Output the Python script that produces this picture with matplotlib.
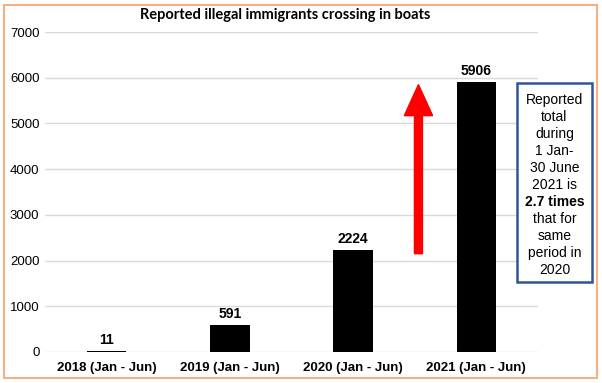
import matplotlib
matplotlib.use("Agg")
import matplotlib.pyplot as plt
from matplotlib.patches import Rectangle, FancyArrow

categories = ["2018 (Jan - Jun)", "2019 (Jan - Jun)", "2020 (Jan - Jun)", "2021 (Jan - Jun)"]
values = [11, 591, 2224, 5906]
yticks = [0, 1000, 2000, 3000, 4000, 5000, 6000, 7000]
title = "Reported illegal immigrants crossing in boats"
note_lines = ["Reported", "total", "during", "1 Jan-", "30 June", "2021 is", "2.7 times",
              "that for", "same", "period in", "2020"]
bold_line = "2.7 times"

W, H = 602, 383
fig = plt.figure(figsize=(W / 100, H / 100), dpi=100)
fig.patch.set_facecolor("white")

# outer frame
fig.add_artist(Rectangle((4 / W, 5 / H), 593 / W, 373 / H, transform=fig.transFigure,
                         fill=False, edgecolor="#F4B183", linewidth=1.5))

ax = fig.add_axes([45 / W, 1 - 352 / H, 493 / W, 320 / H])
x = list(range(len(categories)))
ax.bar(x, values, width=0.32, color="black", zorder=3)
ax.set_xlim(-0.5, 3.5)
ax.set_ylim(0, 7000)
ax.set_yticks(yticks)
ax.set_yticklabels([str(t) for t in yticks], fontsize=9.5, family="Liberation Sans")
ax.set_xticks(x)
ax.set_xticklabels(categories, fontsize=9.5, fontweight="bold", family="Liberation Sans")
ax.tick_params(length=0, pad=4)
ax.tick_params(axis="x", pad=7)
for s in ax.spines.values():
    s.set_visible(False)
ax.grid(axis="y", color="#D9D9D9", linewidth=1, zorder=0)
ax.set_axisbelow(True)

for xi, v in zip(x, values):
    ax.annotate(str(v), (xi, v), xytext=(0, 3), textcoords="offset points",
                ha="center", va="bottom", fontsize=10, fontweight="bold", family="Liberation Sans")

# red arrow
ax.add_patch(FancyArrow(2.53, 2150, 0, 3700, width=0.065, head_width=0.23, head_length=680,
                        length_includes_head=True, color="red", zorder=4))

fig.text(0.5 * (45 + 538) / W - 0.01, 1 - 15 / H, title, ha="center", va="center",
         fontsize=10.5, fontweight="bold", family="Lato")

# note box
fig.add_artist(Rectangle((517 / W, 1 - 282 / H), 75 / W, 199 / H, transform=fig.transFigure,
                         fill=True, facecolor="white", edgecolor="#2F5597", linewidth=1.8))
for i, line in enumerate(note_lines):
    yy = 100 + i * 17
    fig.text(554.5 / W, 1 - yy / H, line, ha="center", va="center", fontsize=10,
             family="Liberation Sans", fontweight="bold" if line == bold_line else "normal")

fig.savefig("out.png", dpi=100)
